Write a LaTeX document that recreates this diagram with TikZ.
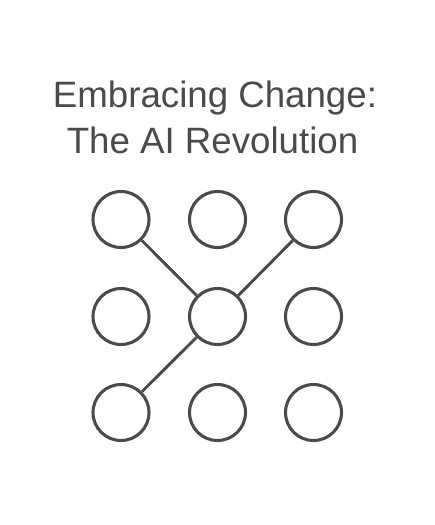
\documentclass[tikz,border=0pt]{standalone}
\usepackage{fontspec}
\setmainfont{Liberation Sans}
\definecolor{ink}{HTML}{4A4A4A}
\begin{document}
\begin{tikzpicture}[x=0.75pt,y=-0.75pt,
  dot/.style={circle,draw=ink,line width=2.3pt,minimum size=42pt,inner sep=0pt,fill=white},
  link/.style={draw=ink,line width=2.2pt},
  titletext/.style={text=ink,font=\fontsize{27.5pt}{33pt}\selectfont,inner sep=0pt,anchor=base}]
\useasboundingbox (0,0) rectangle (435,525);
\node[titletext] (t1) at (215,107.5) {Embracing Change:};
\node[titletext] (t2) at (212.5,153) {The AI Revolution};
\foreach \c/\x in {1/121,2/217.5,3/313.5}{
  \foreach \r/\y in {1/219.5,2/316.5,3/412.5}{
    \node[dot] (c\r\c) at (\x,\y) {};
  }
}
\draw[link] (c11) -- (c22);
\draw[link] (c13) -- (c22);
\draw[link] (c22) -- (c31);
\end{tikzpicture}
\end{document}
